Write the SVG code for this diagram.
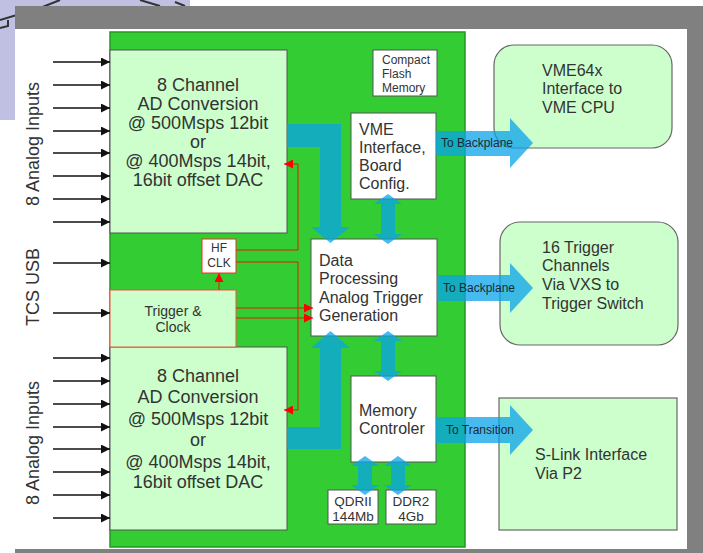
<svg xmlns="http://www.w3.org/2000/svg" width="703" height="553" viewBox="0 0 703 553">
<style>
text{font-family:"Liberation Sans",Arial,sans-serif;fill:#333;}
.adc{fill:#ccffcc;stroke:#555;stroke-width:1;}
.wbox{fill:#fff;stroke:#555;stroke-width:1;}
.ext{fill:#ccffcc;stroke:#666;stroke-width:1.2;}
.blue{fill:rgb(10,163,235);fill-opacity:0.75;stroke:none;}
.red{stroke:#e02000;stroke-width:1;fill:none;}
.inp{stroke:#111;stroke-width:1.3;}
.c18{font-size:18px;text-anchor:middle;}
.f16{font-size:16px;}
.f12{font-size:12px;}
.lbl{font-size:12px;fill:#1a2a33;}
</style>
<defs>
<marker id="ra" viewBox="0 0 10 10" refX="10" refY="5" markerWidth="10" markerHeight="9" markerUnits="userSpaceOnUse" orient="auto"><path d="M0,0 L10,5 L0,10 Z" fill="#ff0000"/></marker>
<marker id="ba" viewBox="0 0 10 10" refX="10" refY="5" markerWidth="10" markerHeight="9" markerUnits="userSpaceOnUse" orient="auto"><path d="M0,0 L10,5 L0,10 Z" fill="#111"/></marker>
</defs>
<!-- background -->
<rect x="0" y="0" width="703" height="553" fill="#fff"/>
<rect x="0" y="0" width="190" height="120" fill="#c0c0e2"/>
<path d="M0,20 L40,8 L60,0 M0,28 L8,26 L8,20 M140,0 L160,6 M175,2 L185,6" stroke="#333" stroke-width="2" fill="none"/>
<rect x="15" y="29" width="672" height="520" fill="#fff"/>
<rect x="15" y="6" width="688" height="23" fill="#808080"/>
<rect x="687" y="29" width="16" height="524" fill="#808080"/>
<rect x="15" y="549" width="672" height="4" fill="#808080"/>

<g id="board"><rect x="110" y="32" width="355" height="515" fill="#33cc33" stroke="#229922" stroke-width="1.5"/></g>

<g id="labels">
<text class="c18" transform="translate(39,144) rotate(-90)">8  Analog Inputs</text>
<text class="c18" transform="translate(39,287) rotate(-90)">TCS  USB</text>
<text class="c18" transform="translate(39,443) rotate(-90)">8  Analog Inputs</text>
</g>

<g id="adc-top">
<rect class="adc" x="110" y="50" width="177" height="183"/>
<text class="c18" x="198" y="91">8 Channel</text>
<text class="c18" x="198" y="110">AD Conversion</text>
<text class="c18" x="198" y="129">@ 500Msps 12bit</text>
<text class="c18" x="198" y="148">or</text>
<text class="c18" x="198" y="167">@ 400Msps 14bit,</text>
<text class="c18" x="198" y="186">16bit offset DAC</text>
</g>
<g id="adc-bottom">
<rect class="adc" x="110" y="347" width="177" height="183"/>
<text class="c18" x="198" y="382">8 Channel</text>
<text class="c18" x="198" y="403">AD Conversion</text>
<text class="c18" x="198" y="425">@ 500Msps 12bit</text>
<text class="c18" x="198" y="446">or</text>
<text class="c18" x="198" y="468">@ 400Msps 14bit,</text>
<text class="c18" x="198" y="488">16bit offset DAC</text>
</g>
<g id="trigger-clock">
<rect x="110" y="290" width="126" height="57" fill="#ccffcc" stroke="#ee5544" stroke-width="1"/>
<text x="173" y="316" font-size="14" text-anchor="middle">Trigger &amp;</text>
<text x="173" y="332" font-size="14" text-anchor="middle">Clock</text>
</g>
<g id="hf-clk">
<rect x="202" y="239" width="34" height="34" fill="#fff" stroke="#ee3322" stroke-width="1"/>
<text x="219" y="252" font-size="12" text-anchor="middle">HF</text>
<text x="219" y="267" font-size="12" text-anchor="middle">CLK</text>
</g>
<g id="compact-flash">
<rect class="wbox" x="373" y="50" width="64" height="46"/>
<text class="f12" x="382" y="64">Compact</text>
<text class="f12" x="382" y="78">Flash</text>
<text class="f12" x="382" y="92">Memory</text>
</g>
<g id="vme-interface">
<rect class="wbox" x="351" y="113" width="85" height="86"/>
<text class="f16" x="359" y="135">VME</text>
<text class="f16" x="359" y="153">Interface,</text>
<text class="f16" x="359" y="171">Board</text>
<text class="f16" x="359" y="189">Config.</text>
</g>
<g id="data-processing">
<rect class="wbox" x="311" y="239" width="126" height="97"/>
<text class="f16" x="319" y="266">Data</text>
<text class="f16" x="319" y="284">Processing</text>
<text class="f16" x="319" y="303">Analog Trigger</text>
<text class="f16" x="319" y="321">Generation</text>
</g>
<g id="memory-controler">
<rect class="wbox" x="351" y="376" width="85" height="86"/>
<text class="f16" x="359" y="416">Memory</text>
<text class="f16" x="359" y="434">Controler</text>
</g>
<g id="qdrii">
<rect class="wbox" x="328" y="490" width="50" height="34"/>
<text x="353" y="506" font-size="13.5" text-anchor="middle">QDRII</text>
<text x="353" y="521" font-size="13.5" text-anchor="middle">144Mb</text>
</g>
<g id="ddr2">
<rect class="wbox" x="386" y="490" width="50" height="34"/>
<text x="411" y="506" font-size="13.5" text-anchor="middle">DDR2</text>
<text x="411" y="521" font-size="13.5" text-anchor="middle">4Gb</text>
</g>
<g id="vme64x">
<rect class="ext" x="494" y="45" width="178" height="103" rx="20"/>
<text class="f16" x="542" y="76">VME64x</text>
<text class="f16" x="542" y="94">Interface to</text>
<text class="f16" x="542" y="113">VME CPU</text>
</g>
<g id="trigger-channels">
<rect class="ext" x="500" y="222" width="178" height="123" rx="20"/>
<text class="f16" x="542" y="253">16 Trigger</text>
<text class="f16" x="542" y="271">Channels</text>
<text class="f16" x="542" y="290">Via VXS to</text>
<text class="f16" x="542" y="309">Trigger Switch</text>
</g>
<g id="s-link">
<rect class="ext" x="499" y="398" width="178" height="132"/>
<text class="f16" x="535" y="460">S-Link Interface</text>
<text class="f16" x="535" y="479">Via P2</text>
</g>

<g id="connectors">
<g id="inputs">
<line class="inp" x1="53" y1="62" x2="110" y2="62" marker-end="url(#ba)"/>
<line class="inp" x1="53" y1="85" x2="110" y2="85" marker-end="url(#ba)"/>
<line class="inp" x1="53" y1="108" x2="110" y2="108" marker-end="url(#ba)"/>
<line class="inp" x1="53" y1="131" x2="110" y2="131" marker-end="url(#ba)"/>
<line class="inp" x1="53" y1="153" x2="110" y2="153" marker-end="url(#ba)"/>
<line class="inp" x1="53" y1="176" x2="110" y2="176" marker-end="url(#ba)"/>
<line class="inp" x1="53" y1="199" x2="110" y2="199" marker-end="url(#ba)"/>
<line class="inp" x1="53" y1="222" x2="110" y2="222" marker-end="url(#ba)"/>
<line class="inp" x1="53" y1="263" x2="110" y2="263" marker-end="url(#ba)"/>
<line class="inp" x1="53" y1="313" x2="110" y2="313" marker-end="url(#ba)"/>
<line class="inp" x1="53" y1="358" x2="110" y2="358" marker-end="url(#ba)"/>
<line class="inp" x1="53" y1="381" x2="110" y2="381" marker-end="url(#ba)"/>
<line class="inp" x1="53" y1="404" x2="110" y2="404" marker-end="url(#ba)"/>
<line class="inp" x1="53" y1="427" x2="110" y2="427" marker-end="url(#ba)"/>
<line class="inp" x1="53" y1="449" x2="110" y2="449" marker-end="url(#ba)"/>
<line class="inp" x1="53" y1="472" x2="110" y2="472" marker-end="url(#ba)"/>
<line class="inp" x1="53" y1="495" x2="110" y2="495" marker-end="url(#ba)"/>
<line class="inp" x1="53" y1="518" x2="110" y2="518" marker-end="url(#ba)"/>
</g>
<g id="red-links">
<path class="red" d="M236,250 H298 V164 H284" marker-end="url(#ra)"/>
<path class="red" d="M236,262 H298 V410 H284" marker-end="url(#ra)"/>
<path class="red" d="M219,290 V273" marker-end="url(#ra)"/>
<path class="red" d="M236,308 H313" marker-end="url(#ra)"/>
<path class="red" d="M236,318 H313" marker-end="url(#ra)"/>
</g>
<g id="buses">
<path class="blue" d="M287,124 H341 V227 H350 L330.5,243 L311,227 H320 V147 H287 Z"/>
<path class="blue" d="M287,427 H320 V348 H311 L330.5,331 L350,348 H341 V449 H287 Z"/>
<path class="blue" d="M388,194 L402,204 H395 V234 H402 L388,244 L374,234 H381 V204 H374 Z"/>
<path class="blue" d="M388,331 L402,341 H395 V371 H402 L388,381 L374,371 H381 V341 H374 Z"/>
<path class="blue" d="M365,456 L379,466 H372 V485 H379 L365,495 L351,485 H358 V466 H351 Z"/>
<path class="blue" d="M398,456 L412,466 H405 V485 H412 L398,495 L384,485 H391 V466 H384 Z"/>
<path class="blue" d="M436,131 H510 V118 L533,143 L510,168 V156 H436 Z"/>
<path class="blue" d="M437,275 H510 V263 L533,288 L510,313 V301 H437 Z"/>
<path class="blue" d="M436,417 H510 V405 L533,430 L510,455 V443 H436 Z"/>
<text class="lbl" x="441" y="147">To Backplane</text>
<text class="lbl" x="443" y="292">To Backplane</text>
<text class="lbl" x="446" y="434">To Transition</text>
</g>
</g>
</svg>
